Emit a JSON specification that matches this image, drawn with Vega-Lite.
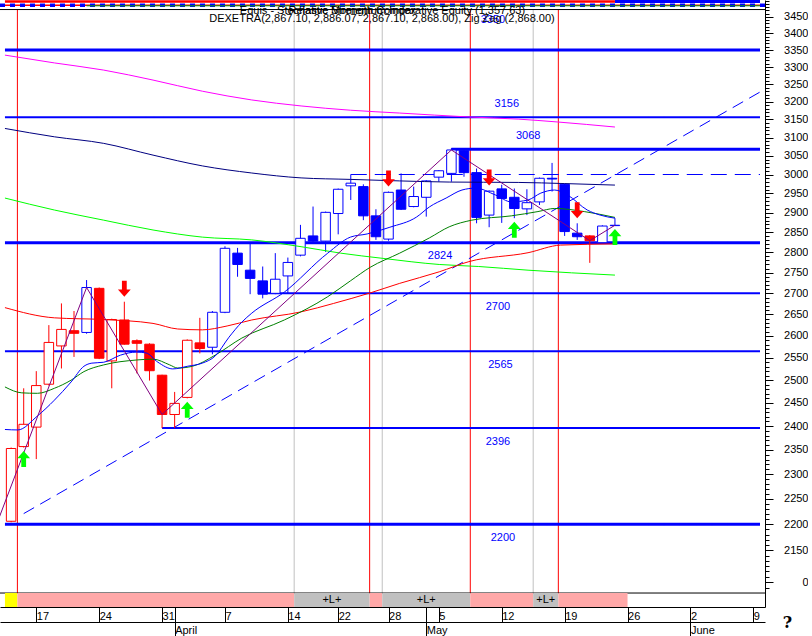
{
  "$schema": "https://vega.github.io/schema/vega-lite/v6.json",
  "padding": 0,
  "background": "white",
  "width": 765,
  "height": 607,
  "config": {"view": {"stroke": null}, "font": "Liberation Sans"},
  "datasets": {
    "candles": [
      {"date":"2025-03-13","day":0,"open":2206,"high":2355,"low":2204,"close":2353,"trend":"down"},
      {"date":"2025-03-14","day":1,"open":2357,"high":2482,"low":2355,"close":2404,"trend":"down","signal":"buy"},
      {"date":"2025-03-17","day":2,"open":2398,"high":2520,"low":2331,"close":2488,"trend":"down"},
      {"date":"2025-03-18","day":3,"open":2491,"high":2625,"low":2488,"close":2585,"trend":"down"},
      {"date":"2025-03-19","day":4,"open":2577,"high":2676,"low":2526,"close":2615,"trend":"down"},
      {"date":"2025-03-20","day":5,"open":2612,"high":2658,"low":2552,"close":2606,"trend":"down"},
      {"date":"2025-03-21","day":6,"open":2608,"high":2732,"low":2605,"close":2714,"trend":"up"},
      {"date":"2025-03-24","day":7,"open":2712,"high":2714,"low":2547,"close":2549,"trend":"down"},
      {"date":"2025-03-25","day":8,"open":2543,"high":2640,"low":2482,"close":2638,"trend":"down"},
      {"date":"2025-03-26","day":9,"open":2637,"high":2680,"low":2580,"close":2581,"trend":"down","signal":"sell"},
      {"date":"2025-03-27","day":10,"open":2589,"high":2592,"low":2515,"close":2583,"trend":"down"},
      {"date":"2025-03-28","day":11,"open":2581,"high":2583,"low":2499,"close":2521,"trend":"down"},
      {"date":"2025-03-31","day":12,"open":2511,"high":2512,"low":2396,"close":2425,"trend":"down"},
      {"date":"2025-04-01","day":13,"open":2425,"high":2474,"low":2396,"close":2449,"trend":"down"},
      {"date":"2025-04-02","day":14,"open":2462,"high":2592,"low":2460,"close":2590,"trend":"down","signal":"buy"},
      {"date":"2025-04-03","day":15,"open":2584,"high":2642,"low":2560,"close":2571,"trend":"down"},
      {"date":"2025-04-04","day":16,"open":2574,"high":2658,"low":2558,"close":2655,"trend":"up"},
      {"date":"2025-04-07","day":17,"open":2655,"high":2815,"low":2653,"close":2810,"trend":"up"},
      {"date":"2025-04-08","day":18,"open":2798,"high":2811,"low":2740,"close":2770,"trend":"up"},
      {"date":"2025-04-09","day":19,"open":2756,"high":2822,"low":2698,"close":2736,"trend":"up"},
      {"date":"2025-04-10","day":20,"open":2730,"high":2765,"low":2688,"close":2698,"trend":"up"},
      {"date":"2025-04-11","day":21,"open":2700,"high":2798,"low":2698,"close":2734,"trend":"up"},
      {"date":"2025-04-14","day":22,"open":2742,"high":2787,"low":2700,"close":2775,"trend":"up"},
      {"date":"2025-04-15","day":23,"open":2793,"high":2869,"low":2790,"close":2835,"trend":"up"},
      {"date":"2025-04-16","day":24,"open":2841,"high":2916,"low":2826,"close":2828,"trend":"up"},
      {"date":"2025-04-17","day":25,"open":2828,"high":2903,"low":2801,"close":2901,"trend":"up"},
      {"date":"2025-04-22","day":26,"open":2898,"high":2963,"low":2845,"close":2961,"trend":"up"},
      {"date":"2025-04-23","day":27,"open":2970,"high":3000,"low":2933,"close":2977,"trend":"up"},
      {"date":"2025-04-24","day":28,"open":2968,"high":2974,"low":2881,"close":2892,"trend":"up"},
      {"date":"2025-04-25","day":29,"open":2892,"high":2909,"low":2831,"close":2839,"trend":"up"},
      {"date":"2025-04-28","day":30,"open":2833,"high":2955,"low":2829,"close":2953,"trend":"up","signal":"sell"},
      {"date":"2025-04-29","day":31,"open":2959,"high":3003,"low":2907,"close":2909,"trend":"up"},
      {"date":"2025-04-30","day":32,"open":2916,"high":2968,"low":2914,"close":2942,"trend":"up"},
      {"date":"2025-05-02","day":33,"open":2940,"high":2985,"low":2890,"close":2983,"trend":"up"},
      {"date":"2025-05-05","day":34,"open":2993,"high":3012,"low":2981,"close":3010,"trend":"up"},
      {"date":"2025-05-06","day":35,"open":3003,"high":3071,"low":2981,"close":3066,"trend":"up"},
      {"date":"2025-05-07","day":36,"open":3064,"high":3066,"low":2994,"close":3005,"trend":"up"},
      {"date":"2025-05-08","day":37,"open":3005,"high":3016,"low":2873,"close":2888,"trend":"up"},
      {"date":"2025-05-09","day":38,"open":2894,"high":2958,"low":2863,"close":2956,"trend":"up","signal":"sell"},
      {"date":"2025-05-12","day":39,"open":2962,"high":2973,"low":2874,"close":2937,"trend":"up"},
      {"date":"2025-05-13","day":40,"open":2940,"high":2963,"low":2886,"close":2911,"trend":"up","signal":"buy"},
      {"date":"2025-05-14","day":41,"open":2910,"high":2961,"low":2894,"close":2926,"trend":"up"},
      {"date":"2025-05-15","day":42,"open":2928,"high":2992,"low":2920,"close":2990,"trend":"up"},
      {"date":"2025-05-16","day":43,"open":2990,"high":3031,"low":2955,"close":2988,"trend":"up"},
      {"date":"2025-05-19","day":44,"open":2974,"high":2976,"low":2841,"close":2852,"trend":"up"},
      {"date":"2025-05-20","day":45,"open":2848,"high":2873,"low":2831,"close":2839,"trend":"up","signal":"sell"},
      {"date":"2025-05-21","day":46,"open":2841,"high":2843,"low":2774,"close":2829,"trend":"down"},
      {"date":"2025-05-22","day":47,"open":2824,"high":2868,"low":2822,"close":2866,"trend":"up"},
      {"date":"2025-05-23","day":48,"open":2867.1,"high":2886.07,"low":2867.1,"close":2868,"trend":"up","signal":"buy"}
    ],
    "averages": [
      {"series":"sma200","day":-0.49,"value":3335},{"series":"sma200","day":3.44,"value":3312},{"series":"sma200","day":7.36,"value":3291},{"series":"sma200","day":11.28,"value":3262},{"series":"sma200","day":15.2,"value":3230},{"series":"sma200","day":19.13,"value":3205},{"series":"sma200","day":23.05,"value":3188},{"series":"sma200","day":26.97,"value":3176},{"series":"sma200","day":30.89,"value":3168},{"series":"sma200","day":36.39,"value":3157},{"series":"sma200","day":40.31,"value":3151},{"series":"sma200","day":43.45,"value":3143},{"series":"sma200","day":48,"value":3129},
      {"series":"sma150","day":-0.49,"value":3125},{"series":"sma150","day":3.44,"value":3102},{"series":"sma150","day":7.36,"value":3084},{"series":"sma150","day":11.28,"value":3052},{"series":"sma150","day":15.2,"value":3023},{"series":"sma150","day":19.13,"value":3004},{"series":"sma150","day":23.05,"value":2991},{"series":"sma150","day":26.97,"value":2987},{"series":"sma150","day":30.89,"value":2983},{"series":"sma150","day":34.82,"value":2980},{"series":"sma150","day":40.31,"value":2979},{"series":"sma150","day":44,"value":2976},{"series":"sma150","day":48,"value":2972},
      {"series":"sma100","day":-0.49,"value":2938},{"series":"sma100","day":3.44,"value":2907},{"series":"sma100","day":7.36,"value":2881},{"series":"sma100","day":11.28,"value":2856},{"series":"sma100","day":15.2,"value":2838},{"series":"sma100","day":19.13,"value":2831},{"series":"sma100","day":23.05,"value":2814},{"series":"sma100","day":26.19,"value":2798},{"series":"sma100","day":29.56,"value":2785},{"series":"sma100","day":34.03,"value":2770},{"series":"sma100","day":37.17,"value":2765},{"series":"sma100","day":41.09,"value":2756},{"series":"sma100","day":48,"value":2744},
      {"series":"sma50","day":-0.49,"value":2666},{"series":"sma50","day":3.44,"value":2642},{"series":"sma50","day":7.36,"value":2638},{"series":"sma50","day":11.28,"value":2629},{"series":"sma50","day":13.24,"value":2616},{"series":"sma50","day":15.2,"value":2614},{"series":"sma50","day":17.17,"value":2623},{"series":"sma50","day":19.13,"value":2637},{"series":"sma50","day":23.05,"value":2656},{"series":"sma50","day":25.64,"value":2676},{"series":"sma50","day":28.54,"value":2701},{"series":"sma50","day":30.89,"value":2724},{"series":"sma50","day":34.03,"value":2752},{"series":"sma50","day":36.39,"value":2777},{"series":"sma50","day":41.09,"value":2799},{"series":"sma50","day":43.68,"value":2818},{"series":"sma50","day":48,"value":2821},
      {"series":"sma20","day":-0.49,"value":2485},{"series":"sma20","day":0.85,"value":2472},{"series":"sma20","day":2.1,"value":2471},{"series":"sma20","day":3.44,"value":2482},{"series":"sma20","day":4.77,"value":2500},{"series":"sma20","day":5.79,"value":2519},{"series":"sma20","day":7.36,"value":2534},{"series":"sma20","day":9.95,"value":2545},{"series":"sma20","day":11.28,"value":2547},{"series":"sma20","day":12.61,"value":2534},{"series":"sma20","day":13.24,"value":2527},{"series":"sma20","day":14.42,"value":2531},{"series":"sma20","day":16.22,"value":2556},{"series":"sma20","day":18.34,"value":2595},{"series":"sma20","day":21.72,"value":2637},{"series":"sma20","day":25.17,"value":2692},{"series":"sma20","day":26.97,"value":2730},{"series":"sma20","day":28.54,"value":2763},{"series":"sma20","day":30.89,"value":2798},{"series":"sma20","day":33.25,"value":2836},{"series":"sma20","day":34.82,"value":2864},{"series":"sma20","day":36.62,"value":2881},{"series":"sma20","day":39.76,"value":2892},{"series":"sma20","day":41.88,"value":2903},{"series":"sma20","day":43.21,"value":2911},{"series":"sma20","day":45.56,"value":2903},{"series":"sma20","day":48,"value":2888},
      {"series":"sma10","day":-0.49,"value":2393},{"series":"sma10","day":0.53,"value":2392},{"series":"sma10","day":2.1,"value":2422},{"series":"sma10","day":3.44,"value":2456},{"series":"sma10","day":4.77,"value":2496},{"series":"sma10","day":5.79,"value":2531},{"series":"sma10","day":6.42,"value":2538},{"series":"sma10","day":7.36,"value":2540},{"series":"sma10","day":8.69,"value":2556},{"series":"sma10","day":9.95,"value":2563},{"series":"sma10","day":10.73,"value":2561},{"series":"sma10","day":11.67,"value":2540},{"series":"sma10","day":12.85,"value":2525},{"series":"sma10","day":14.03,"value":2531},{"series":"sma10","day":15.2,"value":2538},{"series":"sma10","day":16.22,"value":2554},{"series":"sma10","day":17.32,"value":2597},{"series":"sma10","day":18.34,"value":2632},{"series":"sma10","day":19.13,"value":2653},{"series":"sma10","day":21.72,"value":2703},{"series":"sma10","day":25.17,"value":2798},{"series":"sma10","day":26.97,"value":2838},{"series":"sma10","day":28.3,"value":2846},{"series":"sma10","day":30.11,"value":2863},{"series":"sma10","day":32.23,"value":2889},{"series":"sma10","day":33.25,"value":2915},{"series":"sma10","day":34.58,"value":2938},{"series":"sma10","day":35.84,"value":2959},{"series":"sma10","day":36.93,"value":2964},{"series":"sma10","day":38.5,"value":2946},{"series":"sma10","day":39.76,"value":2928},{"series":"sma10","day":41.09,"value":2933},{"series":"sma10","day":42.11,"value":2951},{"series":"sma10","day":43.21,"value":2959},{"series":"sma10","day":44.23,"value":2946},{"series":"sma10","day":45.8,"value":2907},{"series":"sma10","day":46.82,"value":2894},{"series":"sma10","day":48,"value":2886}
    ],
    "zigzag": [
      {"day":-1,"value":2210},{"day":6,"value":2714},{"day":12,"value":2425},{"day":35,"value":3066},{"day":46,"value":2829},{"day":48,"value":2868}
    ],
    "trend": [
      {"day":1,"value":2221},{"day":59.5,"value":3227}
    ],
    "levels": [
      {"level":3350,"start":-0.49,"style":"heavy","label":"3350","labelDay":38.3,"side":"top"},
      {"level":3156,"start":-0.49,"style":"light","label":"3156","labelDay":39.4,"side":"above"},
      {"level":3068,"start":35,"style":"heavy","label":"3068","labelDay":41.1,"side":"above"},
      {"level":3000,"start":27,"style":"dashed"},
      {"level":2824,"start":-0.49,"style":"heavy","label":"2824","labelDay":34.1,"side":"below"},
      {"level":2700,"start":20,"style":"light","label":"2700","labelDay":38.7,"side":"below"},
      {"level":2565,"start":-0.49,"style":"light","label":"2565","labelDay":38.9,"side":"below"},
      {"level":2396,"start":12,"style":"light","label":"2396","labelDay":38.7,"side":"below"},
      {"level":2200,"start":-0.49,"style":"heavy","label":"2200","labelDay":39.1,"side":"below"}
    ],
    "sessions": [
      {"day":0.5,"kind":"exit"},{"day":22.5,"kind":"entry"},{"day":28.5,"kind":"exit"},{"day":29.5,"kind":"entry"},{"day":36.5,"kind":"exit"},{"day":41.5,"kind":"entry"},{"day":43.5,"kind":"exit"}
    ],
    "bands": [
      {"start":-0.49,"end":0.5,"state":"start"},
      {"start":0.5,"end":22.5,"state":"flat"},
      {"start":22.5,"end":28.5,"mid":25.5,"state":"long"},
      {"start":28.5,"end":29.5,"state":"flat"},
      {"start":29.5,"end":36.5,"mid":33,"state":"long"},
      {"start":36.5,"end":41.5,"state":"flat"},
      {"start":41.5,"end":43.5,"mid":42.5,"state":"long"},
      {"start":43.5,"end":49,"state":"flat"}
    ]
  },
  "resolve": {
    "axis": {"x": "independent", "y": "independent"},
    "scale": {"color": "independent", "fill": "independent", "stroke": "independent", "strokeWidth": "independent", "strokeDash": "independent"}
  },
  "layer": [
    {
      "data": {"name": "sessions"},
      "mark": {"type": "rule", "strokeWidth": 1, "clip": true},
      "encoding": {
        "x": {"field": "day", "type": "quantitative", "scale": {"domain": [-0.486, 59.53], "nice": false, "zero": false}, "axis": null},
        "y": {"datum": 3472.5, "type": "quantitative", "scale": {"type": "log", "domain": [2044.5, 3502], "nice": false, "zero": false}, "axis": null},
        "y2": {"datum": 2070},
        "color": {"field": "kind", "type": "nominal", "scale": {"domain": ["exit", "entry"], "range": ["#FF0000", "#C0C0C0"]}, "legend": null}
      }
    },
    {
      "data": {"values": [{}]},
      "mark": {"type": "rule", "color": "#0000FF", "strokeWidth": 3.5, "strokeDash": [5, 5], "clip": true},
      "encoding": {
        "y": {"datum": 3486, "type": "quantitative", "scale": {"type": "log", "domain": [2044.5, 3502], "nice": false, "zero": false}, "axis": null}
      }
    },
    {
      "data": {"values": [{}]},
      "mark": {"type": "rule", "color": "#FF0000", "strokeWidth": 1.5, "strokeDash": [5, 5], "strokeDashOffset": 5, "clip": true},
      "encoding": {
        "y": {"datum": 3486, "type": "quantitative", "scale": {"type": "log", "domain": [2044.5, 3502], "nice": false, "zero": false}, "axis": null}
      }
    },
    {
      "data": {"values": [{}]},
      "mark": {"type": "rule", "color": "#00A000", "strokeWidth": 1, "clip": true},
      "encoding": {
        "x": {"datum": 6, "type": "quantitative", "scale": {"domain": [-0.486, 59.53], "nice": false, "zero": false}, "axis": null},
        "x2": {"datum": 59.53},
        "y": {"datum": 3484, "type": "quantitative", "scale": {"type": "log", "domain": [2044.5, 3502], "nice": false, "zero": false}, "axis": null}
      }
    },
    {
      "data": {"values": [{}]},
      "mark": {"type": "rule", "color": "#FF0000", "strokeWidth": 2.5, "clip": true},
      "encoding": {
        "x": {"datum": -0.49, "type": "quantitative", "scale": {"domain": [-0.486, 59.53], "nice": false, "zero": false}, "axis": null},
        "x2": {"datum": 48},
        "y": {"datum": 3497, "type": "quantitative", "scale": {"type": "log", "domain": [2044.5, 3502], "nice": false, "zero": false}, "axis": null}
      }
    },
    {
      "data": {"values": [{}]},
      "mark": {"type": "rule", "color": "#0000FF", "strokeWidth": 3, "clip": true},
      "encoding": {
        "x": {"datum": 48, "type": "quantitative", "scale": {"domain": [-0.486, 59.53], "nice": false, "zero": false}, "axis": null},
        "x2": {"datum": 59.53},
        "y": {"datum": 3497, "type": "quantitative", "scale": {"type": "log", "domain": [2044.5, 3502], "nice": false, "zero": false}, "axis": null}
      }
    },
    {
      "data": {"values": [{"edge": 3472.5}, {"edge": 2070}]},
      "mark": {"type": "rule", "color": "black", "strokeWidth": 1, "clip": true},
      "encoding": {
        "y": {"field": "edge", "type": "quantitative", "scale": {"type": "log", "domain": [2044.5, 3502], "nice": false, "zero": false}, "axis": null}
      }
    },
    {
      "data": {"name": "levels"},
      "mark": {"type": "rule", "color": "#0000FF", "clip": true},
      "encoding": {
        "x": {"field": "start", "type": "quantitative", "scale": {"domain": [-0.486, 59.53], "nice": false, "zero": false}, "axis": null},
        "x2": {"datum": 59.53},
        "y": {"field": "level", "type": "quantitative", "scale": {"type": "log", "domain": [2044.5, 3502], "nice": false, "zero": false}, "axis": null},
        "strokeWidth": {"field": "style", "type": "nominal", "scale": {"domain": ["heavy", "light", "dashed"], "range": [3, 1, 1.5]}, "legend": null},
        "strokeDash": {"field": "style", "type": "nominal", "scale": {"domain": ["heavy", "light", "dashed"], "range": [[1, 0], [1, 0], [16, 8]]}, "legend": null}
      }
    },
    {
      "data": {"name": "trend"},
      "mark": {"type": "line", "color": "#0000FF", "strokeWidth": 1, "strokeDash": [12, 7], "clip": true},
      "encoding": {
        "x": {"field": "day", "type": "quantitative", "scale": {"domain": [-0.486, 59.53], "nice": false, "zero": false}, "axis": null},
        "y": {"field": "value", "type": "quantitative", "scale": {"type": "log", "domain": [2044.5, 3502], "nice": false, "zero": false}, "axis": null}
      }
    },
    {
      "data": {"name": "candles"},
      "mark": {"type": "rule", "strokeWidth": 1, "clip": true},
      "encoding": {
        "x": {"field": "day", "type": "quantitative", "scale": {"domain": [-0.486, 59.53], "nice": false, "zero": false}, "axis": null},
        "y": {
          "field": "low", "type": "quantitative",
          "scale": {"type": "log", "domain": [2044.5, 3502], "nice": false, "zero": false},
          "axis": {
            "orient": "right", "title": null, "grid": false,
            "values": [2090, 2150, 2200, 2250, 2300, 2350, 2400, 2450, 2500, 2550, 2600, 2650, 2700, 2750, 2800, 2850, 2900, 2950, 3000, 3050, 3100, 3150, 3200, 3250, 3300, 3350, 3400, 3450],
            "labelExpr": "datum.value == 2090 ? '0' : '' + datum.value",
            "tickSize": 8, "tickWidth": 1, "tickColor": "black",
            "domain": true, "domainColor": "black", "domainWidth": 1,
            "labelPadding": 35, "labelAlign": "right", "labelBaseline": "middle",
            "labelFont": "Liberation Sans", "labelFontSize": 11, "labelColor": "black",
            "labelOverlap": false, "labelBound": false, "labelFlush": false
          }
        },
        "y2": {"field": "high"},
        "color": {"field": "trend", "type": "nominal", "scale": {"domain": ["down", "up"], "range": ["#FF0000", "#0000FF"]}, "legend": null}
      }
    },
    {
      "data": {"name": "candles"},
      "mark": {"type": "bar", "width": 9.5, "strokeWidth": 1, "clip": true},
      "encoding": {
        "x": {"field": "day", "type": "quantitative", "scale": {"domain": [-0.486, 59.53], "nice": false, "zero": false}, "axis": null},
        "y": {
          "field": "open", "type": "quantitative",
          "scale": {"type": "log", "domain": [2044.5, 3502], "nice": false, "zero": false},
          "axis": {
            "orient": "right", "title": null, "grid": false, "labels": false, "domain": false,
            "values": [2080,2090,2100,2110,2120,2130,2140,2150,2160,2170,2180,2190,2200,2210,2220,2230,2240,2250,2260,2270,2280,2290,2300,2310,2320,2330,2340,2350,2360,2370,2380,2390,2400,2410,2420,2430,2440,2450,2460,2470,2480,2490,2500,2510,2520,2530,2540,2550,2560,2570,2580,2590,2600,2610,2620,2630,2640,2650,2660,2670,2680,2690,2700,2710,2720,2730,2740,2750,2760,2770,2780,2790,2800,2810,2820,2830,2840,2850,2860,2870,2880,2890,2900,2910,2920,2930,2940,2950,2960,2970,2980,2990,3000,3010,3020,3030,3040,3050,3060,3070,3080,3090,3100,3110,3120,3130,3140,3150,3160,3170,3180,3190,3200,3210,3220,3230,3240,3250,3260,3270,3280,3290,3300,3310,3320,3330,3340,3350,3360,3370,3380,3390,3400,3410,3420,3430,3440,3450,3460,3470,3480,3490,3500],
            "tickSize": 4, "tickWidth": 1, "tickColor": "black"
          }
        },
        "y2": {"field": "close"},
        "fill": {
          "condition": {"test": "datum.close > datum.open", "value": "#FFFFFF"},
          "field": "trend", "type": "nominal", "scale": {"domain": ["down", "up"], "range": ["#FF0000", "#0000FF"]}, "legend": null
        },
        "stroke": {"field": "trend", "type": "nominal", "scale": {"domain": ["down", "up"], "range": ["#FF0000", "#0000FF"]}, "legend": null}
      }
    },
    {
      "data": {"name": "averages"},
      "mark": {"type": "line", "interpolate": "monotone", "strokeWidth": 1, "clip": true},
      "encoding": {
        "x": {"field": "day", "type": "quantitative", "scale": {"domain": [-0.486, 59.53], "nice": false, "zero": false}, "axis": null},
        "y": {"field": "value", "type": "quantitative", "scale": {"type": "log", "domain": [2044.5, 3502], "nice": false, "zero": false}, "axis": null},
        "color": {"field": "series", "type": "nominal", "scale": {"domain": ["sma200", "sma150", "sma100", "sma50", "sma20", "sma10"], "range": ["#FF00FF", "#000080", "#00FF00", "#FF0000", "#008000", "#0000FF"]}, "legend": null}
      }
    },
    {
      "data": {"name": "zigzag"},
      "mark": {"type": "line", "color": "#800080", "strokeWidth": 1, "clip": true},
      "encoding": {
        "x": {"field": "day", "type": "quantitative", "scale": {"domain": [-0.486, 59.53], "nice": false, "zero": false}, "axis": null},
        "y": {"field": "value", "type": "quantitative", "scale": {"type": "log", "domain": [2044.5, 3502], "nice": false, "zero": false}, "axis": null}
      }
    },
    {
      "data": {"name": "candles"},
      "transform": [{"filter": "datum.signal == 'sell'"}],
      "mark": {"type": "point", "shape": "M-0.3,-1L0.3,-1L0.3,0.1L0.8,0.1L0,1L-0.8,0.1L-0.3,0.1Z", "filled": true, "color": "#FF0000", "opacity": 1, "size": 256, "yOffset": -13, "clip": true},
      "encoding": {
        "x": {"field": "day", "type": "quantitative", "scale": {"domain": [-0.486, 59.53], "nice": false, "zero": false}, "axis": null},
        "y": {"field": "high", "type": "quantitative", "scale": {"type": "log", "domain": [2044.5, 3502], "nice": false, "zero": false}, "axis": null}
      }
    },
    {
      "data": {"name": "candles"},
      "transform": [{"filter": "datum.signal == 'buy'"}],
      "mark": {"type": "point", "shape": "M-0.3,1L0.3,1L0.3,-0.1L0.8,-0.1L0,-1L-0.8,-0.1L-0.3,-0.1Z", "filled": true, "color": "#00FF00", "opacity": 1, "size": 256, "yOffset": 11.5, "clip": true},
      "encoding": {
        "x": {"field": "day", "type": "quantitative", "scale": {"domain": [-0.486, 59.53], "nice": false, "zero": false}, "axis": null},
        "y": {"field": "low", "type": "quantitative", "scale": {"type": "log", "domain": [2044.5, 3502], "nice": false, "zero": false}, "axis": null}
      }
    },
    {
      "data": {"name": "levels"},
      "transform": [{"filter": "datum.side == 'below'"}],
      "mark": {"type": "text", "color": "#0000FF", "fontSize": 11, "baseline": "middle", "align": "center", "dy": 13.5},
      "encoding": {
        "x": {"field": "labelDay", "type": "quantitative", "scale": {"domain": [-0.486, 59.53], "nice": false, "zero": false}, "axis": null},
        "y": {"field": "level", "type": "quantitative", "scale": {"type": "log", "domain": [2044.5, 3502], "nice": false, "zero": false}, "axis": null},
        "text": {"field": "label"}
      }
    },
    {
      "data": {"name": "levels"},
      "transform": [{"filter": "datum.side == 'above'"}],
      "mark": {"type": "text", "color": "#0000FF", "fontSize": 11, "baseline": "middle", "align": "center", "dy": -13.5},
      "encoding": {
        "x": {"field": "labelDay", "type": "quantitative", "scale": {"domain": [-0.486, 59.53], "nice": false, "zero": false}, "axis": null},
        "y": {"field": "level", "type": "quantitative", "scale": {"type": "log", "domain": [2044.5, 3502], "nice": false, "zero": false}, "axis": null},
        "text": {"field": "label"}
      }
    },
    {
      "data": {"name": "levels"},
      "transform": [{"filter": "datum.side == 'top'"}],
      "mark": {"type": "text", "color": "#0000FF", "fontSize": 11, "baseline": "middle", "align": "center", "dy": -30.5},
      "encoding": {
        "x": {"field": "labelDay", "type": "quantitative", "scale": {"domain": [-0.486, 59.53], "nice": false, "zero": false}, "axis": null},
        "y": {"field": "level", "type": "quantitative", "scale": {"type": "log", "domain": [2044.5, 3502], "nice": false, "zero": false}, "axis": null},
        "text": {"field": "label"}
      }
    },
    {
      "data": {"values": [{}]},
      "mark": {"type": "text", "color": "black", "fontSize": 11, "baseline": "middle", "align": "left", "text": "Equis - Stochastic Momentum Index"},
      "encoding": {
        "x": {"datum": 18.18, "type": "quantitative", "scale": {"domain": [-0.486, 59.53], "nice": false, "zero": false}, "axis": null},
        "y": {"datum": 3468, "type": "quantitative", "scale": {"type": "log", "domain": [2044.5, 3502], "nice": false, "zero": false}, "axis": null}
      }
    },
    {
      "data": {"values": [{}]},
      "mark": {"type": "text", "color": "black", "fontSize": 11, "baseline": "middle", "align": "right", "text": "Relative Strength Comparative Equity (1,357.63)"},
      "encoding": {
        "x": {"datum": 40.86, "type": "quantitative", "scale": {"domain": [-0.486, 59.53], "nice": false, "zero": false}, "axis": null},
        "y": {"datum": 3468, "type": "quantitative", "scale": {"type": "log", "domain": [2044.5, 3502], "nice": false, "zero": false}, "axis": null}
      }
    },
    {
      "data": {"values": [{}]},
      "mark": {"type": "text", "color": "black", "fontSize": 11, "baseline": "middle", "align": "left", "text": "DEXETRA(2,867.10, 2,886.07, 2,867.10, 2,868.00), Zig Zag (2,868.00)"},
      "encoding": {
        "x": {"datum": 15.75, "type": "quantitative", "scale": {"domain": [-0.486, 59.53], "nice": false, "zero": false}, "axis": null},
        "y": {"datum": 3442, "type": "quantitative", "scale": {"type": "log", "domain": [2044.5, 3502], "nice": false, "zero": false}, "axis": null}
      }
    },
    {
      "data": {"name": "bands"},
      "mark": {"type": "rect", "clip": true},
      "encoding": {
        "x": {
          "field": "start", "type": "quantitative",
          "scale": {"domain": [-0.486, 59.53], "nice": false, "zero": false},
          "axis": {
            "orient": "bottom", "title": null, "grid": false,
            "values": [2, 7, 12, 13, 17, 22, 26, 30, 33, 34, 39, 44, 49, 54, 59],
            "labelExpr": "indexof([2,7,12,17,22,26,30,34,39,44,49,54,59], datum.value) < 0 ? '' : ['17','24','31','7','14','22','28','5','12','19','26','2','9'][indexof([2,7,12,17,22,26,30,34,39,44,49,54,59], datum.value)]",
            "tickSize": 15, "tickWidth": 1, "tickColor": "black",
            "domain": true, "domainColor": "black",
            "labelPadding": -12, "labelAlign": "left", "labelBaseline": "top", "labelDx": 1.5,
            "labelFont": "Liberation Sans", "labelFontSize": 11, "labelColor": "black",
            "labelOverlap": false, "labelBound": false, "labelFlush": false
          }
        },
        "x2": {"field": "end"},
        "y": {"datum": 2070, "type": "quantitative", "scale": {"type": "log", "domain": [2044.5, 3502], "nice": false, "zero": false}, "axis": null},
        "y2": {"datum": 2044.5},
        "fill": {"field": "state", "type": "nominal", "scale": {"domain": ["start", "flat", "long"], "range": ["#FFFF00", "#FFA8A8", "#C0C0C0"]}, "legend": null}
      }
    },
    {
      "data": {"name": "bands"},
      "transform": [{"filter": "datum.state == 'long'"}],
      "mark": {"type": "text", "text": "+L+", "fontSize": 11, "color": "black", "baseline": "middle", "align": "center"},
      "encoding": {
        "x": {
          "field": "mid", "type": "quantitative",
          "scale": {"domain": [-0.486, 59.53], "nice": false, "zero": false},
          "axis": {
            "orient": "bottom", "offset": 15, "grid": false,
            "values": [13, 33, 54],
            "labelExpr": "datum.value == 13 ? 'April' : (datum.value == 33 ? 'May' : 'June')",
            "tickSize": 14, "tickWidth": 1, "tickColor": "black",
            "domain": true, "domainColor": "black",
            "labelPadding": -12, "labelAlign": "left", "labelBaseline": "top", "labelDx": 1.5,
            "labelFont": "Liberation Sans", "labelFontSize": 11, "labelColor": "black",
            "labelOverlap": false, "labelBound": false, "labelFlush": false,
            "title": "?", "titleX": 787, "titleY": 0, "titleAlign": "center", "titleBaseline": "middle",
            "titleFont": "DejaVu Serif", "titleFontSize": 16, "titleFontWeight": "bold", "titleColor": "black", "titleAngle": 0
          }
        },
        "y": {"datum": 2057, "type": "quantitative", "scale": {"type": "log", "domain": [2044.5, 3502], "nice": false, "zero": false}, "axis": null}
      }
    }
  ]
}
